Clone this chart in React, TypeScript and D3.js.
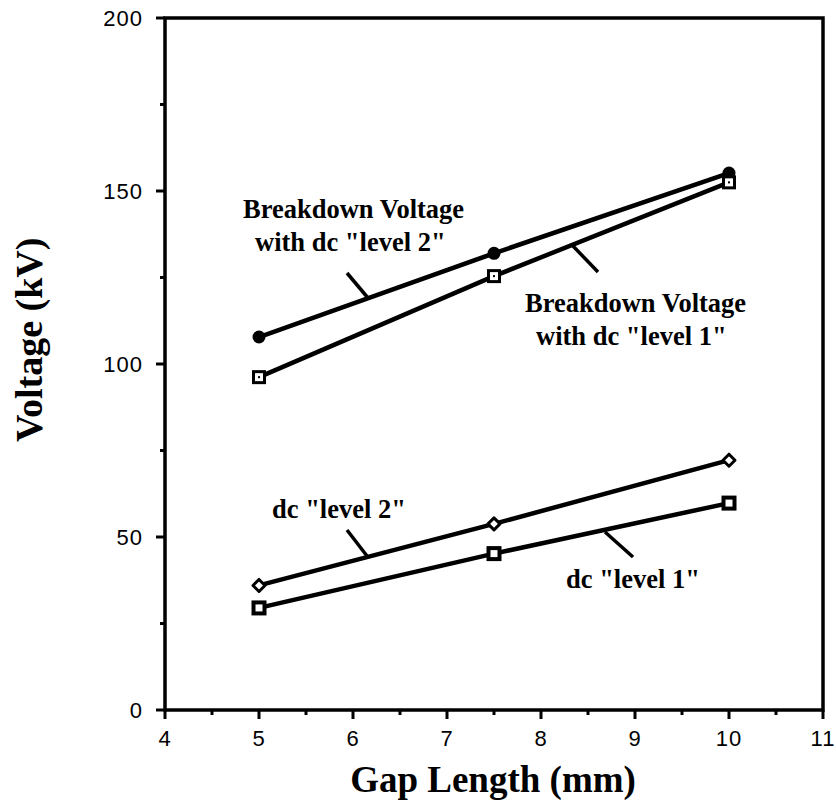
import React, { useEffect, useRef } from "react";
import * as d3 from "d3";

const gapLength = [5, 7.5, 10];
const bvLevel2 = [107.8, 132, 155.2];
const bvLevel1 = [96.2, 125.4, 152.5];
const dcLevel2 = [36, 53.8, 72.2];
const dcLevel1 = [29.5, 45.2, 59.8];
const xTicks = [4, 5, 6, 7, 8, 9, 10, 11];
const yTicks = [0, 50, 100, 150, 200];

const W = 836, H = 803;
const left = 165, right = 823, top = 18, bottom = 710;

export default function App() {
  const ref = useRef<SVGSVGElement>(null);
  useEffect(() => {
    const svg = d3.select(ref.current);
    svg.selectAll("*").remove();
    const x = d3.scaleLinear().domain([4, 11]).range([left, right]);
    const y = d3.scaleLinear().domain([0, 200]).range([bottom, top]);
    const serif = "'Liberation Serif', 'Times New Roman', serif";
    const sans = "'Liberation Sans', Arial, sans-serif";

    // frame
    svg.append("rect").attr("x", left).attr("y", top).attr("width", right - left).attr("height", bottom - top)
      .attr("fill", "none").attr("stroke", "#000").attr("stroke-width", 3.5);

    // x ticks
    const xMinor = d3.range(4.5, 11, 1);
    xTicks.forEach(t => {
      svg.append("line").attr("x1", x(t)).attr("x2", x(t)).attr("y1", bottom).attr("y2", bottom + 9)
        .attr("stroke", "#000").attr("stroke-width", 3);
      svg.append("text").attr("x", x(t)).attr("y", bottom + 36).attr("text-anchor", "middle")
        .attr("font-family", sans).attr("font-size", 22).attr("letter-spacing", 1).text(String(t));
    });
    xMinor.forEach(t => {
      svg.append("line").attr("x1", x(t)).attr("x2", x(t)).attr("y1", bottom).attr("y2", bottom + 5)
        .attr("stroke", "#000").attr("stroke-width", 3);
    });
    // y ticks
    const yMinor = d3.range(25, 200, 50);
    yTicks.forEach(t => {
      svg.append("line").attr("x1", left - 9).attr("x2", left).attr("y1", y(t)).attr("y2", y(t))
        .attr("stroke", "#000").attr("stroke-width", 3);
      svg.append("text").attr("x", left - 22).attr("y", y(t) + 8).attr("text-anchor", "end")
        .attr("font-family", sans).attr("font-size", 22).attr("letter-spacing", 1).text(String(t));
    });
    yMinor.forEach(t => {
      svg.append("line").attr("x1", left - 5).attr("x2", left).attr("y1", y(t)).attr("y2", y(t))
        .attr("stroke", "#000").attr("stroke-width", 3);
    });

    // axis titles
    svg.append("text").attr("x", 493).attr("y", 792).attr("text-anchor", "middle")
      .attr("font-family", serif).attr("font-weight", "bold").attr("font-size", 37).text("Gap Length (mm)");
    svg.append("text").attr("transform", `translate(42,442) rotate(-90)`)
      .attr("text-anchor", "start").attr("font-family", serif).attr("font-weight", "bold")
      .attr("font-size", 38).text("Voltage (kV)");

    const line = d3.line<[number, number]>().x(d => x(d[0])).y(d => y(d[1]));
    const series = [
      { v: bvLevel2, m: "circle" },
      { v: bvLevel1, m: "square" },
      { v: dcLevel2, m: "diamond" },
      { v: dcLevel1, m: "squareBold" },
    ];
    series.forEach(s => {
      const pts: [number, number][] = gapLength.map((g, i) => [g, s.v[i]]);
      svg.append("path").attr("d", line(pts)).attr("fill", "none").attr("stroke", "#000").attr("stroke-width", 4.5);
      pts.forEach(p => {
        const cx = x(p[0]), cy = y(p[1]);
        if (s.m === "circle") {
          svg.append("circle").attr("cx", cx).attr("cy", cy).attr("r", 6.5).attr("fill", "#000");
        } else if (s.m === "square") {
          svg.append("rect").attr("x", cx - 5.5).attr("y", cy - 5.5).attr("width", 11).attr("height", 11)
            .attr("fill", "#fff").attr("stroke", "#000").attr("stroke-width", 3);
          svg.append("rect").attr("x", cx - 1).attr("y", cy - 1).attr("width", 2).attr("height", 2).attr("fill", "#000");
        } else if (s.m === "squareBold") {
          svg.append("rect").attr("x", cx - 5.5).attr("y", cy - 5.5).attr("width", 11).attr("height", 11)
            .attr("fill", "#fff").attr("stroke", "#000").attr("stroke-width", 4);
        } else {
          svg.append("path").attr("d", `M${cx},${cy - 6}L${cx + 6},${cy}L${cx},${cy + 6}L${cx - 6},${cy}Z`)
            .attr("fill", "#fff").attr("stroke", "#000").attr("stroke-width", 3).attr("stroke-linejoin", "round");
        }
      });
    });

    // annotations
    const labels = [
      { lines: ["Breakdown Voltage", "with dc \"level 2\""], x: 243, y: 218, x2: 255, leader: [[347, 273], [368, 298]] },
      { lines: ["Breakdown Voltage", "with dc \"level 1\""], x: 525, y: 312, x2: 536, leader: [[573, 246], [598, 272]] },
      { lines: ["dc \"level 2\""], x: 272, y: 518, x2: 272, leader: [[347, 530], [367, 556]] },
      { lines: ["dc \"level 1\""], x: 566, y: 588, x2: 566, leader: [[605, 532], [633, 557]] },
    ];
    labels.forEach(l => {
      l.lines.forEach((t, i) => {
        svg.append("text").attr("x", i === 0 ? l.x : l.x2).attr("y", l.y + i * 33)
          .attr("font-family", serif).attr("font-weight", "bold").attr("font-size", 26.5).text(t);
      });
      svg.append("line").attr("x1", l.leader[0][0]).attr("y1", l.leader[0][1])
        .attr("x2", l.leader[1][0]).attr("y2", l.leader[1][1])
        .attr("stroke", "#000").attr("stroke-width", 3.5);
    });
  }, []);
  return (
    <svg ref={ref} width={W} height={H} style={{ position: "absolute", left: 0, top: 0, background: "#fff" }} />
  );
}
